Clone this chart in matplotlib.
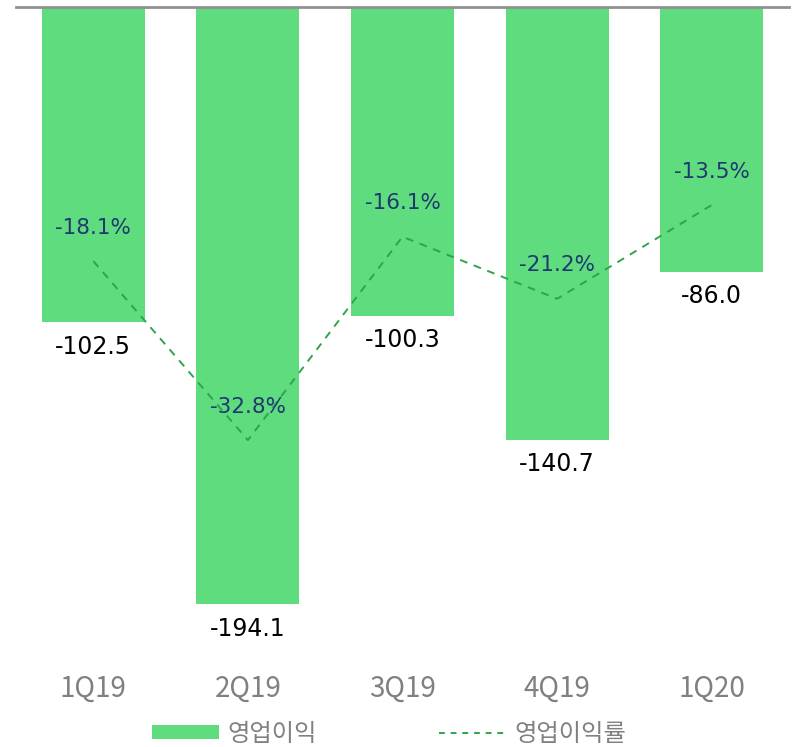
import matplotlib.pyplot as plt
from matplotlib.lines import Line2D
from matplotlib.patches import Patch

plt.rcParams['font.family'] = ['Noto Sans CJK KR', 'DejaVu Sans']

quarters = ['1Q19', '2Q19', '3Q19', '4Q19', '1Q20']
op_income = [-102.5, -194.1, -100.3, -140.7, -86.0]
op_margin = [-18.1, -32.8, -16.1, -21.2, -13.5]

bar_color = '#5EDC7E'
line_color = '#2EA44C'

W, H = 792, 747
fig = plt.figure(figsize=(W / 100, H / 100), dpi=100)
ax = fig.add_axes([16 / W, 1 - 672 / H, (789 - 16) / W, (672 - 7) / H])

x = range(len(quarters))
ax.bar(x, op_income, width=0.667, color=bar_color, zorder=2)
ax.set_xlim(-0.5, 4.5)
ax.set_ylim(-216.2, 0)
ax.set_xticks(list(x))
ax.set_xticklabels(quarters, fontsize=20, color='#808080')
ax.tick_params(axis='x', length=0, pad=1)
ax.set_yticks([])
for s in ['left', 'right', 'bottom']:
    ax.spines[s].set_visible(False)
ax.spines['top'].set_color('#909090')
ax.spines['top'].set_linewidth(2)

for i, v in enumerate(op_income):
    ax.annotate(f'{v:.1f}', (i, v), xytext=(0, -9), textcoords='offset points',
                ha='center', va='top', fontsize=17, color='black',
                family='DejaVu Sans')

ax2 = ax.twinx()
ax2.set_ylim(-51.84, 2.76)
ax2.plot(x, op_margin, color=line_color, linestyle=(0, (4, 3.5)), linewidth=1.4, zorder=3)
ax2.set_yticks([])
for s in ax2.spines.values():
    s.set_visible(False)
for i, v in enumerate(op_margin):
    ax2.annotate(f'{v:.1f}%', (i, v), xytext=(0, 24), textcoords='offset points',
                 ha='center', va='center', fontsize=15.5, color='#1F3870',
                 family='DejaVu Sans')

handles = [Patch(facecolor=bar_color, edgecolor='none'),
           Line2D([0], [0], color=line_color, linestyle=(0, (3, 3)), linewidth=1.4)]
leg = fig.legend(handles, ['영업이익', '영업이익률'], loc='center',
                 bbox_to_anchor=(389 / W, 1 - 734 / H), ncol=2, frameon=False,
                 fontsize=17.5, handlelength=2.75, handleheight=0.5,
                 columnspacing=5.0, handletextpad=0.35)
for t in leg.get_texts():
    t.set_color('#808080')

fig.savefig('out.png', dpi=100)
